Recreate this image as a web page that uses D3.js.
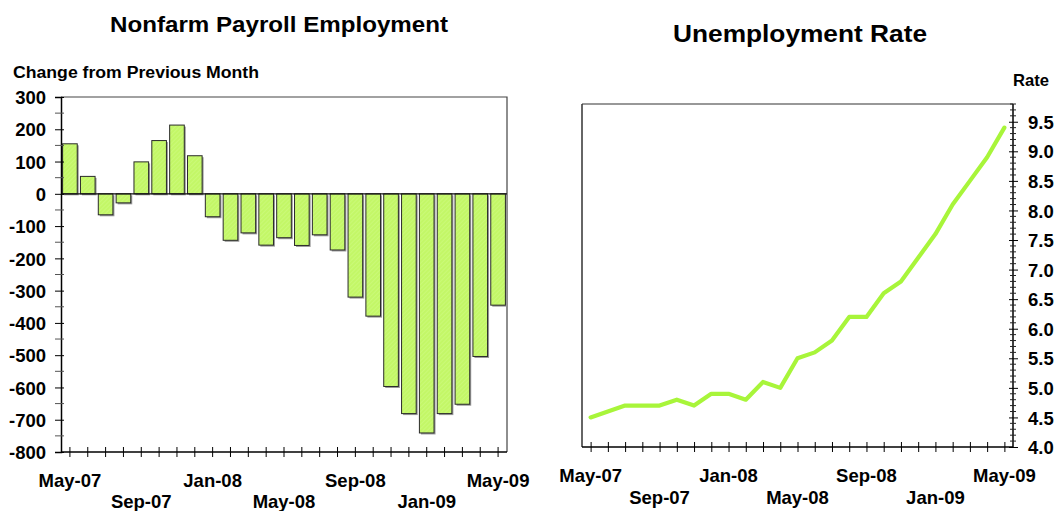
<!DOCTYPE html>
<html>
<head>
<meta charset="utf-8">
<script src="https://cdn.jsdelivr.net/npm/d3@7"></script>
<style>
  html, body { margin: 0; padding: 0; background: #fff; }
  svg text { font-family: "Liberation Sans", Arial, Helvetica, sans-serif; font-weight: bold; fill: #000; }
</style>
</head>
<body>
<svg id="chart" width="1059" height="511"></svg>
<script>
// ---------- data ----------
const months = ["May-07","Jun-07","Jul-07","Aug-07","Sep-07","Oct-07","Nov-07","Dec-07",
                "Jan-08","Feb-08","Mar-08","Apr-08","May-08","Jun-08","Jul-08","Aug-08",
                "Sep-08","Oct-08","Nov-08","Dec-08","Jan-09","Feb-09","Mar-09","Apr-09","May-09"];
const payrollChange = [155, 54, -65, -28, 99, 165, 213, 118, -71, -144, -121, -159, -136,
                       -160, -127, -174, -320, -379, -597, -681, -741, -681, -652, -504, -345];
const unemploymentRate = [4.5, 4.6, 4.7, 4.7, 4.7, 4.8, 4.7, 4.9, 4.9, 4.8, 5.1, 5.0, 5.5,
                          5.6, 5.8, 6.2, 6.2, 6.6, 6.8, 7.2, 7.6, 8.1, 8.5, 8.9, 9.4];
const labelMonths = ["May-07","Sep-07","Jan-08","May-08","Sep-08","Jan-09","May-09"];
const payrollTicks = d3.range(-800, 301, 100);
const rateTicks = [4.0, 4.5, 5.0, 5.5, 6.0, 6.5, 7.0, 7.5, 8.0, 8.5, 9.0, 9.5];

const svg = d3.select("#chart");

// pattern for bars
const defs = svg.append("defs");
const pat = defs.append("pattern").attr("id", "hatch").attr("patternUnits", "userSpaceOnUse")
  .attr("width", 3).attr("height", 3).attr("patternTransform", "rotate(45)");
pat.append("rect").attr("width", 3).attr("height", 3).attr("fill", "#c3f767");
pat.append("line").attr("x1", 0).attr("y1", 0).attr("x2", 0).attr("y2", 3)
  .attr("stroke", "#d2fb88").attr("stroke-width", 1);

function stretchText(sel, width) {
  sel.attr("textLength", width).attr("lengthAdjust", "spacingAndGlyphs");
}

// ================= LEFT: Nonfarm Payroll =================
const L = {left: 61, right: 507, top: 97, bottom: 452};
const xL = d3.scaleBand().domain(months).range([L.left, L.right]).paddingInner(0.18).paddingOuter(0.09);
const yL = d3.scaleLinear().domain([-800, 300]).range([L.bottom, L.top]);

svg.append("text").attr("x", 279).attr("y", 32).attr("text-anchor", "middle")
  .style("font-size", "22px").text("Nonfarm Payroll Employment").call(stretchText, 338);
svg.append("text").attr("x", 13).attr("y", 78).attr("text-anchor", "start")
  .style("font-size", "16px").text("Change from Previous Month").call(stretchText, 246);

// frame (top & right)
svg.append("path").attr("d", `M${L.left},${L.top}H${L.right}V${L.bottom}`)
  .attr("fill", "none").attr("stroke", "#444").attr("stroke-width", 1.2);

// bars: shadow then bar
const barG = svg.append("g");
barG.selectAll("rect.shadow").data(payrollChange).join("rect").attr("class", "shadow")
  .attr("x", (d, i) => xL(months[i]) + 1.5)
  .attr("y", d => Math.min(yL(d), yL(0)) + 1.5)
  .attr("width", xL.bandwidth())
  .attr("height", d => Math.abs(yL(d) - yL(0)))
  .attr("fill", "#999");
barG.selectAll("rect.bar").data(payrollChange).join("rect").attr("class", "bar")
  .attr("x", (d, i) => xL(months[i]))
  .attr("y", d => Math.min(yL(d), yL(0)))
  .attr("width", xL.bandwidth())
  .attr("height", d => Math.abs(yL(d) - yL(0)))
  .attr("fill", "url(#hatch)").attr("stroke", "#2a2a2a").attr("stroke-width", 1);

// zero line
svg.append("line").attr("x1", L.left).attr("x2", L.right).attr("y1", yL(0)).attr("y2", yL(0))
  .attr("stroke", "#111").attr("stroke-width", 1.2);

// y axis left
const yAxisL = svg.append("g").attr("transform", `translate(${L.left},0)`)
  .call(d3.axisLeft(yL).tickValues(payrollTicks).tickSize(6).tickFormat(d => String(d)));
yAxisL.select(".domain").attr("stroke", "#000").attr("stroke-width", 1.5);
yAxisL.selectAll(".tick line").attr("x1", 3).attr("x2", -6).attr("stroke", "#000");
yAxisL.selectAll(".tick text").attr("x", -15).style("font-size", "18.5px").attr("dy", "0.36em");
// minor ticks
svg.append("g").selectAll("line").data(d3.range(-750, 300, 100)).join("line")
  .attr("x1", L.left - 6).attr("x2", L.left + 3).attr("y1", d => yL(d)).attr("y2", d => yL(d))
  .attr("stroke", "#555");

// x axis left
const xAxisL = svg.append("g").attr("transform", `translate(0,${L.bottom})`)
  .call(d3.axisBottom(xL).tickSize(5).tickFormat(""));
xAxisL.select(".domain").attr("stroke", "#000").attr("stroke-width", 1.5).attr("d", `M${L.left},0H${L.right}`);
xAxisL.selectAll(".tick line").attr("y1", -5).attr("y2", 5).attr("stroke", "#000");
svg.append("g").selectAll("text").data(labelMonths).join("text")
  .attr("x", d => xL(d) + xL.bandwidth() / 2)
  .attr("y", (d, i) => L.bottom + (i % 2 === 0 ? 35 : 56))
  .attr("text-anchor", "middle").style("font-size", "18.5px").text(d => d);

// ================= RIGHT: Unemployment Rate =================
const R = {left: 582, right: 1013, top: 104, bottom: 447};
const xR = d3.scalePoint().domain(months).range([R.left, R.right]).padding(0.5);
const yR = d3.scaleLinear().domain([4.0, 9.8]).range([R.bottom, R.top]);

svg.append("text").attr("x", 800).attr("y", 42).attr("text-anchor", "middle")
  .style("font-size", "23px").text("Unemployment Rate").call(stretchText, 254);
svg.append("text").attr("x", 1013).attr("y", 86).attr("text-anchor", "start")
  .style("font-size", "16.5px").text("Rate").call(stretchText, 36);

// frame: left gray, top dark
svg.append("line").attr("x1", R.left).attr("x2", R.left).attr("y1", R.top).attr("y2", R.bottom)
  .attr("stroke", "#666").attr("stroke-width", 2);
svg.append("line").attr("x1", R.left).attr("x2", R.right).attr("y1", R.top).attr("y2", R.top)
  .attr("stroke", "#333").attr("stroke-width", 1.2);

// line
svg.append("path").datum(unemploymentRate)
  .attr("d", d3.line().x((d, i) => xR(months[i])).y(d => yR(d)))
  .attr("fill", "none").attr("stroke", "#a8f53a").attr("stroke-width", 4.2)
  .attr("stroke-linejoin", "round").attr("stroke-linecap", "round");

// y axis right
const yAxisR = svg.append("g").attr("transform", `translate(${R.right},0)`)
  .call(d3.axisRight(yR).tickValues(rateTicks).tickSize(5).tickFormat(d3.format(".1f")));
yAxisR.select(".domain").attr("stroke", "#000").attr("stroke-width", 1.5).attr("d", `M0,${R.top}V${R.bottom}`);
yAxisR.selectAll(".tick line").attr("x1", -4).attr("x2", 5).attr("stroke", "#000");
yAxisR.selectAll(".tick text").attr("x", 15).style("font-size", "18.5px").attr("dy", "0.36em");
svg.append("g").selectAll("line")
  .data(d3.range(40, 99, 1).map(v => v / 10).filter(v => Math.round(v * 10) % 5 !== 0))
  .join("line")
  .attr("x1", R.right - 3).attr("x2", R.right + 3).attr("y1", d => yR(d)).attr("y2", d => yR(d))
  .attr("stroke", "#222");

// x axis right
const xAxisR = svg.append("g").attr("transform", `translate(0,${R.bottom})`)
  .call(d3.axisBottom(xR).tickSize(5).tickFormat(""));
xAxisR.select(".domain").attr("stroke", "#000").attr("stroke-width", 1.5).attr("d", `M${R.left},0H${R.right}`);
xAxisR.selectAll(".tick line").attr("y1", -5).attr("y2", 5).attr("stroke", "#000");
svg.append("g").selectAll("text").data(labelMonths).join("text")
  .attr("x", d => xR(d))
  .attr("y", (d, i) => R.bottom + (i % 2 === 0 ? 35 : 57))
  .attr("text-anchor", "middle").style("font-size", "18.5px").text(d => d);
</script>
</body>
</html>
